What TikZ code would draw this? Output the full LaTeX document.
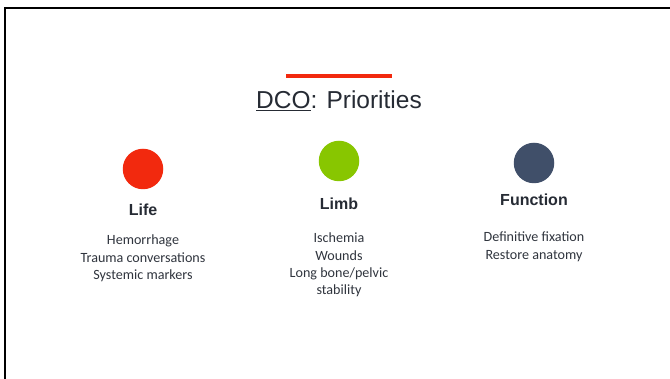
\documentclass[tikz,border=0pt]{standalone}
\usepackage{fontspec}
\setmainfont{Liberation Sans}
\newfontfamily\bodyfont{Carlito}
\definecolor{dcored}{HTML}{F2290E}
\definecolor{dcogreen}{HTML}{88C600}
\definecolor{dconavy}{HTML}{404F69}
\definecolor{dcotext}{HTML}{262B34}
\definecolor{dcoitem}{HTML}{30353E}
\begin{document}
\begin{tikzpicture}[x=1pt,y=1pt,
	dot/.style={circle,inner sep=0pt,minimum size=40.5pt},
	head/.style={font=\bfseries\fontsize{16}{19}\selectfont,text=dcotext,inner sep=0pt},
	items/.style={align=center,anchor=north,inner sep=0pt,text=dcoitem,font=\bodyfont\fontsize{14.1}{17.1}\selectfont}]
		\useasboundingbox (0,0) rectangle (670,379);
		\fill[white] (0,0) rectangle (670,379);
		% frame, cut off at the right and bottom
		\draw[line width=2.5pt] (5,0) -- (5,371) -- (670,371);
		% title with the red bar over it
		\draw[dcored,line width=3.6pt] (286,303) -- (392,303);
		\node[text=dcotext,font=\fontsize{24.5}{29}\selectfont] (title) at (339,278) {\underline{DCO}: Priorities};
		% the three priorities
		\node[dot,fill=dcored] (life) at (143,210) {};
		\node[head] (lifehead) at (143,169) {Life};
		\node[items] (lifeitems) at (143,144) {Hemorrhage\\Trauma conversations\\Systemic markers};
		\node[dot,fill=dcogreen] (limb) at (339,218) {};
		\node[head] (limbhead) at (339,175) {Limb};
		\node[items] (limbitems) at (339,146) {Ischemia\\Wounds\\Long bone/pelvic\\stability};
		\node[dot,fill=dconavy] (function) at (534,216) {};
		\node[head] (functionhead) at (534,179) {Function};
		\node[items] (functionitems) at (534,147) {Definitive fixation\\Restore anatomy};
\end{tikzpicture}
\end{document}
